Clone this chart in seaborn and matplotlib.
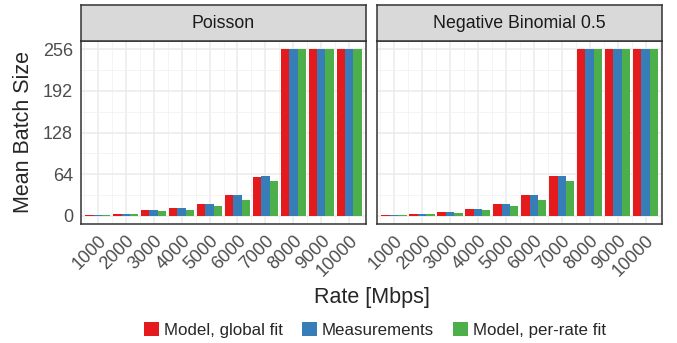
import numpy as np
import pandas as pd
import matplotlib
matplotlib.use("Agg")
import matplotlib.pyplot as plt
import seaborn as sns

sns.set_style("white")
plt.rcParams['font.family'] = ['Liberation Sans', 'DejaVu Sans']

rates = ["1000", "2000", "3000", "4000", "5000", "6000", "7000", "8000", "9000", "10000"]
series = ["Model, global fit", "Measurements", "Model, per-rate fit"]
panels = ["Poisson", "Negative Binomial 0.5"]

poisson_global = [1, 3, 8, 12, 18, 32, 60, 256, 256, 256]
poisson_meas = [1, 3, 8, 12, 18, 32, 61, 256, 256, 256]
poisson_perrate = [1, 3, 7, 9, 15, 24, 54, 256, 256, 256]

negbin_global = [1, 3, 6, 10, 18, 32, 61, 256, 256, 256]
negbin_meas = [1, 3, 6, 10, 18, 32, 61, 256, 256, 256]
negbin_perrate = [1, 3, 4, 9, 15, 24, 54, 256, 256, 256]

colors = ["#E41A1C", "#377EB8", "#4DAF4A"]

rows = []
for panel, vals in zip(panels, [(poisson_global, poisson_meas, poisson_perrate),
                                (negbin_global, negbin_meas, negbin_perrate)]):
    for s, v in zip(series, vals):
        for r, y in zip(rates, v):
            rows.append({"panel": panel, "series": s, "rate": r, "value": y})
df = pd.DataFrame(rows)

W, H = 677, 343
fig = plt.figure(figsize=(W / 100, H / 100), dpi=100)

def fx(px):
    return px / W

def fy(py):
    return 1 - py / H

panel_lefts = [81, 377.3]
panel_w = 285
top, bottom = 41, 224
strip_top = 5

axes = []
for i, panel in enumerate(panels):
    x0 = panel_lefts[i]
    ax = fig.add_axes([fx(x0), fy(bottom), panel_w / W, (bottom - top) / H])
    sub = df[df.panel == panel]
    sns.barplot(data=sub, x="rate", y="value", hue="series", order=rates,
                hue_order=series, palette=colors, width=0.9, errorbar=None,
                ax=ax, legend=(i == 0), saturation=1, linewidth=0)
    ax.set_xlim(-0.6, 9.6)
    ax.set_ylim(-12.8, 268.8)
    ax.set_yticks([0, 64, 128, 192, 256])
    ax.set_yticks([32, 96, 160, 224], minor=True)
    ax.set_xticks(np.arange(-0.5, 10, 1), minor=True)
    ax.grid(True, which="major", color="#EBEBEB", linewidth=1.1)
    ax.grid(True, which="minor", color="#F2F2F2", linewidth=0.6)
    ax.set_axisbelow(True)
    for sp in ax.spines.values():
        sp.set_color("#333333")
        sp.set_linewidth(1.1)
    ax.set_xlabel("")
    ax.set_ylabel("")
    ax.tick_params(axis="both", which="major", length=3.8, width=1.0, color="#333333",
                   labelsize=13, labelcolor="#4D4D4D", pad=2)
    ax.tick_params(axis="both", which="minor", length=0)
    for lab in ax.get_xticklabels():
        lab.set_rotation(45)
        lab.set_ha("right")
        lab.set_va("top")
        lab.set_rotation_mode("anchor")
    if i == 1:
        ax.set_yticklabels([])
    # strip
    sax = fig.add_axes([fx(x0), fy(top), panel_w / W, (top - strip_top) / H])
    sax.set_xticks([])
    sax.set_yticks([])
    sax.set_facecolor("#D9D9D9")
    for sp in sax.spines.values():
        sp.set_color("#333333")
        sp.set_linewidth(1.1)
    sax.text(0.5, 0.5, panel, ha="center", va="center", fontsize=12.8,
             color="#1A1A1A", transform=sax.transAxes)
    axes.append(ax)

leg = axes[0].get_legend()
handles = leg.legend_handles
labels = [t.get_text() for t in leg.get_texts()]
leg.remove()
fig.legend(handles, labels, loc="center", bbox_to_anchor=(fx(375), fy(330)),
           ncol=3, frameon=False, fontsize=12.2, handlelength=0.9, handleheight=0.9,
           handletextpad=0.3, columnspacing=1.1)

fig.text(fx(372), fy(298), "Rate [Mbps]", ha="center", va="center", fontsize=15.5)
fig.text(fx(24), fy(132), "Mean Batch Size", ha="center", va="center",
         rotation=90, fontsize=15.5)

fig.savefig("out.png", dpi=100)
